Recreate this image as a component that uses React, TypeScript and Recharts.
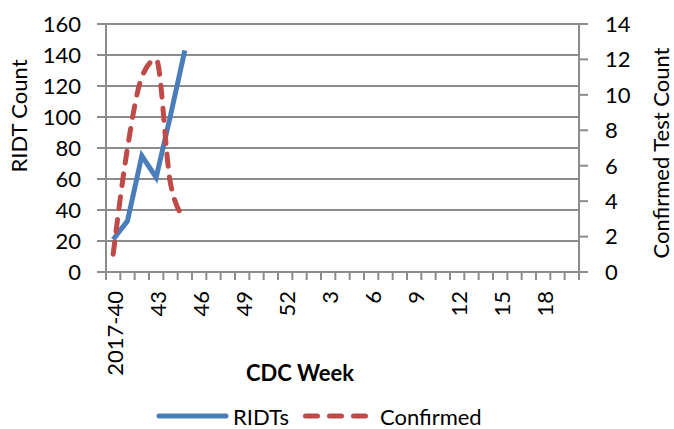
import React from "react";
import {
  LineChart,
  Line,
  XAxis,
  YAxis,
  CartesianGrid,
  Legend,
} from "recharts";

const weeks = [
  "2017-40", "41", "42", "43", "44", "45", "46", "47", "48", "49", "50",
  "51", "52", "1", "2", "3", "4", "5", "6", "7", "8", "9", "10", "11",
  "12", "13", "14", "15", "16", "17", "18", "19", "20",
];

const ridts: (number | null)[] = [21, 33, 75, 61, 101, 143];
const confirmed: (number | null)[] = [1, 7, 11, 12, 5, 3];

const leftTicks = [0, 20, 40, 60, 80, 100, 120, 140, 160];
const rightTicks = [0, 2, 4, 6, 8, 10, 12, 14];

const data = weeks.map((week, i) => ({
  week,
  ridts: ridts[i] ?? null,
  confirmed: confirmed[i] ?? null,
}));

const W = 674;
const H = 429;
const LEFT_W = 106;
const RIGHT_W = 95;
const LEGEND_H = 44;
const LEGEND_Y = 31;
const BAND = (W - LEFT_W - RIGHT_W) / weeks.length;

const FONT = "Lato, 'Open Sans', sans-serif";
const GRID = "#8c8c8c";
const BLUE = "#4a7ebb";
const RED = "#be4b48";

function WeekTick(props: any) {
  const { x, y, payload } = props;
  const index = props.index ?? payload.index;
  const last = index === weeks.length - 1;
  return (
    <g>
      <line x1={x - BAND / 2} x2={x - BAND / 2} y1={y} y2={y + 8} stroke={GRID} strokeWidth={2} />
      {last && (
        <line x1={x + BAND / 2} x2={x + BAND / 2} y1={y} y2={y + 8} stroke={GRID} strokeWidth={2} />
      )}
      {index % 3 === 0 && (
        <text
          x={x + 1}
          y={y + 19}
          transform={`rotate(-90, ${x + 1}, ${y + 19})`}
          textAnchor="end"
          dominantBaseline="central"
          fontSize={22}
          fontFamily={FONT}
          fill="#000"
        >
          {payload.value}
        </text>
      )}
    </g>
  );
}

function LegendContent() {
  return (
    <div style={{ height: LEGEND_H, position: "relative", fontFamily: FONT, fontSize: 22 }}>
      <svg width={W} height={LEGEND_H} style={{ position: "absolute", left: 0, top: 0 }}>
        <line x1={159} x2={226} y1={LEGEND_Y} y2={LEGEND_Y} stroke={BLUE} strokeWidth={5} strokeLinecap="round" />
        <text x={233} y={LEGEND_Y} dominantBaseline="central" fontSize={22} fontFamily={FONT}>
          RIDTs
        </text>
        <line
          x1={305.5}
          x2={365.5}
          y1={LEGEND_Y}
          y2={LEGEND_Y}
          stroke={RED}
          strokeWidth={5}
          strokeLinecap="round"
          strokeDasharray="12 12"
        />
        <text x={380} y={LEGEND_Y} dominantBaseline="central" fontSize={22} fontFamily={FONT}>
          Confirmed
        </text>
      </svg>
    </div>
  );
}

export default function App() {
  return (
    <div style={{ position: "absolute", left: 0, top: 0, width: W, height: H, background: "#fff" }}>
      <LineChart
        width={W}
        height={H}
        data={data}
        margin={{ top: 24, right: 0, left: 0, bottom: 0 }}
      >
        <CartesianGrid yAxisId="left" vertical={false} stroke={GRID} strokeWidth={2} />
        <XAxis
          dataKey="week"
          interval={0}
          height={H - 24 - 248 - LEGEND_H}
          padding={{ left: BAND / 2, right: BAND / 2 }}
          tickLine={false}
          tickSize={0}
          tickMargin={0}
          axisLine={{ stroke: GRID, strokeWidth: 2 }}
          tick={<WeekTick />}
          label={{
            content: ({ viewBox }: any) => (
              <text
                x={300}
                y={viewBox.y + 100}
                textAnchor="middle"
                dominantBaseline="central"
                fontSize={22}
                fontWeight="bold"
                fontFamily={FONT}
              >
                CDC Week
              </text>
            ),
          }}
        />
        <YAxis
          yAxisId="left"
          width={LEFT_W}
          domain={[0, 160]}
          ticks={leftTicks}
          interval={0}
          tickSize={9}
          tickMargin={16}
          axisLine={{ stroke: GRID, strokeWidth: 2 }}
          tickLine={{ stroke: GRID, strokeWidth: 2 }}
          tick={{ fill: "#000", fontSize: 22, fontFamily: FONT }}
          label={{
            content: ({ viewBox }: any) => (
              <text
                x={18}
                y={viewBox.y + viewBox.height / 2 - 32}
                transform={`rotate(-90, 18, ${viewBox.y + viewBox.height / 2 - 32})`}
                textAnchor="middle"
                dominantBaseline="central"
                fontSize={22}
                fontFamily={FONT}
              >
                RIDT Count
              </text>
            ),
          }}
        />
        <YAxis
          yAxisId="right"
          orientation="right"
          width={RIGHT_W}
          domain={[0, 14]}
          ticks={rightTicks}
          interval={0}
          tickSize={9}
          tickMargin={17}
          axisLine={{ stroke: GRID, strokeWidth: 2 }}
          tickLine={{ stroke: GRID, strokeWidth: 2 }}
          tick={{ fill: "#000", fontSize: 22, fontFamily: FONT, textAnchor: "start" }}
          label={{
            content: ({ viewBox }: any) => (
              <text
                x={660}
                y={viewBox.y + viewBox.height / 2 + 5}
                transform={`rotate(-90, 660, ${viewBox.y + viewBox.height / 2 + 5})`}
                textAnchor="middle"
                dominantBaseline="central"
                fontSize={22}
                fontFamily={FONT}
              >
                Confirmed Test Count
              </text>
            ),
          }}
        />
        <Legend verticalAlign="bottom" content={<LegendContent />} />
        <Line
          yAxisId="left"
          dataKey="ridts"
          name="RIDTs"
          type="linear"
          stroke={BLUE}
          strokeWidth={5}
          dot={false}
          activeDot={false}
          isAnimationActive={false}
        />
        <Line
          yAxisId="right"
          dataKey="confirmed"
          name="Confirmed"
          type="monotone"
          stroke={RED}
          strokeWidth={5}
          strokeDasharray="12 11"
          strokeLinecap="round"
          dot={false}
          activeDot={false}
          isAnimationActive={false}
        />
      </LineChart>
    </div>
  );
}
